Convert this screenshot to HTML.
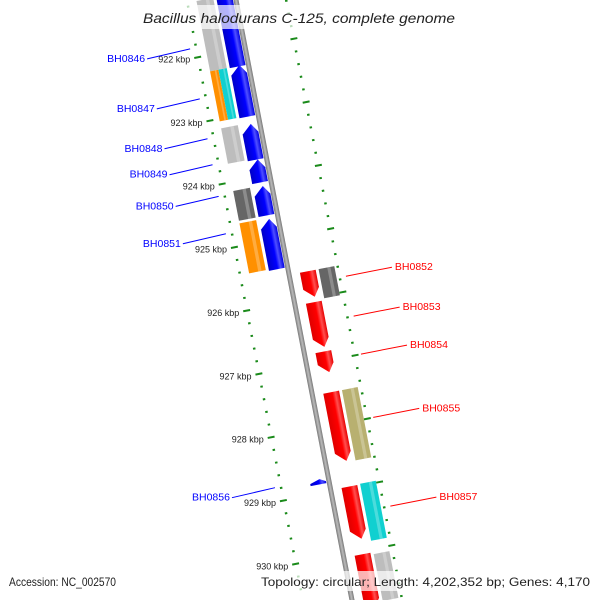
<!DOCTYPE html>
<html><head><meta charset="utf-8"><style>
html,body{margin:0;padding:0;background:#fff;overflow:hidden;width:600px;height:600px;}
svg{display:block;overflow:hidden;font-family:"Liberation Sans","DejaVu Sans",sans-serif;}
</style></head><body>
<svg id="map" width="600" height="600" viewBox="0 0 600 600" xmlns="http://www.w3.org/2000/svg">
<defs>
<linearGradient id="gblue" x1="0" x2="1" y1="0" y2="0"><stop offset="0" stop-color="#0000c8"/><stop offset="0.55" stop-color="#0000ff"/><stop offset="0.75" stop-color="#5050ff"/><stop offset="1" stop-color="#0000e0"/></linearGradient>
<linearGradient id="gred" x1="0" x2="1" y1="0" y2="0"><stop offset="0" stop-color="#e00000"/><stop offset="0.55" stop-color="#ff0000"/><stop offset="0.75" stop-color="#ff5050"/><stop offset="1" stop-color="#e80000"/></linearGradient>
<linearGradient id="gback" x1="0" x2="1" y1="0" y2="0"><stop offset="0" stop-color="#777"/><stop offset="0.5" stop-color="#bbb"/><stop offset="1" stop-color="#777"/></linearGradient>
<clipPath id="frame"><rect x="0" y="0" width="600" height="600"/></clipPath>
</defs>
<g clip-path="url(#frame)">
<g id="rot" transform="translate(236,0) rotate(-10.94)">
<rect x="-2.5" y="-60" width="5" height="680" fill="url(#gback)"/>
</g>
<g id="labels"></g>
</g>
<rect x="138" y="5" width="324" height="24" fill="#fff" opacity="0.7"/>
<text x="143" y="23" textLength="312" lengthAdjust="spacingAndGlyphs" font-size="14" font-style="italic" fill="#222">Bacillus halodurans C-125, complete genome</text>
<rect x="5" y="571" width="116" height="20" fill="#fff" opacity="0.7"/>
<text x="9" y="586" textLength="107" lengthAdjust="spacingAndGlyphs" font-size="12" fill="#222">Accession: NC_002570</text>
<rect x="256" y="571" width="339" height="20" fill="#fff" opacity="0.7"/>
<text x="261" y="586" textLength="329" lengthAdjust="spacingAndGlyphs" font-size="12" fill="#222">Topology: circular; Length: 4,202,352 bp; Genes: 4,170</text>
</svg>
<script>
// data (kbp)
const geneNames = ["BH0846a","BH0847","BH0848","BH0849","BH0850","BH0851","BH0856"];
const leftAStart = [921.05,922.24,923.17,923.73,924.15,924.67,928.78];
const leftAEnd   = [922.26,923.05,923.73,924.09,924.61,925.46,928.86];
const leftBStart = [921.14,922.25,922.25,923.15,924.14,924.65];
const leftBEnd   = [922.25,923.04,923.04,923.71,924.61,925.44];
const leftBColor = ["#bdbdbd","#ff9000","#10d0d0","#bdbdbd","#666666","#ff9000"];
const leftBHalf  = [0,1,2,0,0,0];
const rightAStart = [925.58,926.07,926.85,927.49,928.98,930.05];
const rightAEnd   = [925.99,926.78,927.18,928.58,929.81,930.9];
const rightBStart = [925.58,927.49,928.97,930.08];
const rightBEnd   = [926.04,928.6,929.87,930.82];
const rightBColor = ["#666666","#b8b070","#10d0d0","#bdbdbd"];
const tickLabels = [922,923,924,925,926,927,928,929,930];
const leftLabelNames = ["BH0846","BH0847","BH0848","BH0849","BH0850","BH0851","BH0856"];
const leftLabelKbp = [921.83,922.62,923.25,923.66,924.16,924.75,928.76];
const rightLabelNames = ["BH0852","BH0853","BH0854","BH0855","BH0857"];
const rightLabelKbp = [925.72,926.35,926.95,927.95,929.35];

const NS="http://www.w3.org/2000/svg";
const rot=document.getElementById('rot'), lab=document.getElementById('labels');
const TH=10.94*Math.PI/180, C=Math.cos(TH), S=Math.sin(TH);
function v(k){return 49+(k-922)*64.5;}
function scr(u,vv){return [236+u*C+vv*S, -u*S+vv*C];}
function mk(p,tag,attrs){const e=document.createElementNS(NS,tag);for(const k in attrs)e.setAttribute(k,attrs[k]);p.appendChild(e);return e;}

for(let k=920.0;k<=931.01;k+=0.2){
  const kk=Math.round(k*10)/10, major=Math.abs(kk-Math.round(kk))<0.01, y=v(kk);
  const l=mk(rot,'line',{x1:major?-52:-49.5,x2:major?-45:-47,y1:y,y2:y,stroke:'#1a8a1a','stroke-width':2});
  
  
  const r=mk(rot,'line',{x1:major?46:48,x2:major?53:50.5,y1:y,y2:y,stroke:'#1a8a1a','stroke-width':2});
  
  
}
function gene(u0,u1,ks,ke,fill,dir,name){
  const a=v(ks),b=v(ke),h=Math.min(9,(b-a)*0.6);let pts;
  if(dir<0) pts=[[u0,a+h],[(u0+u1)/2+2,a],[u1,a+h],[u1,b],[u0,b]];
  else if(dir>0) pts=[[u0,a],[u1,a],[u1,b-h],[(u0+u1)/2+2,b],[u0,b-h]];
  else pts=[[u0,a],[u1,a],[u1,b],[u0,b]];
  const p=mk(rot,'polygon',{points:pts.map(q=>q.join(',')).join(' '),fill:fill});
  
  
  if(dir===0){const s=mk(rot,'rect',{x:u0+(u1-u0)*0.55,y:a,width:(u1-u0)*0.2,height:b-a,fill:'#fff',opacity:0.25});
    
    }
}
leftAStart.forEach((s,i)=>gene(-19,-3,s,leftAEnd[i],'url(#gblue)',-1,'gene-left-a-'+i));
leftBStart.forEach((s,i)=>{let u0=-39,u1=-22;if(leftBHalf[i]===1)u1=-30.5;if(leftBHalf[i]===2)u0=-30.5;gene(u0,u1,s,leftBEnd[i],leftBColor[i],0,'gene-left-b-'+i);});
rightAStart.forEach((s,i)=>gene(11,27,s,rightAEnd[i],'url(#gred)',1,'gene-right-a-'+i));
rightBStart.forEach((s,i)=>gene(30,46,s,rightBEnd[i],rightBColor[i],0,'gene-right-b-'+i));

tickLabels.forEach(k=>{const p=scr(-56,v(k));
  const t=mk(lab,'text',{x:p[0],y:p[1]+4,'text-anchor':'end','font-size':9,fill:'#222'});t.textContent=k+' kbp';
  
  });
leftLabelNames.forEach((n,i)=>{const p=scr(-50,v(leftLabelKbp[i]));const x1=p[0]-4,y1=p[1]+2,x2=x1-43,y2=y1+10;
  const l=mk(lab,'line',{x1:x1,y1:y1,x2:x2,y2:y2,stroke:'#0000ff','stroke-width':1});
  
  
  const t=mk(lab,'text',{x:x2-2,y:y2+3,'text-anchor':'end','font-size':10.5,fill:'#0000ff'});t.textContent=n;
  
  });
rightLabelNames.forEach((n,i)=>{const p=scr(50,v(rightLabelKbp[i]));const x1=p[0]+6,y1=p[1]+2,x2=x1+46,y2=y1-9;
  const l=mk(lab,'line',{x1:x1,y1:y1,x2:x2,y2:y2,stroke:'#ff0000','stroke-width':1});
  
  
  const t=mk(lab,'text',{x:x2+3,y:y2+3,'font-size':10.5,fill:'#ff0000'});t.textContent=n;
  
  });
</script>
</body></html>
